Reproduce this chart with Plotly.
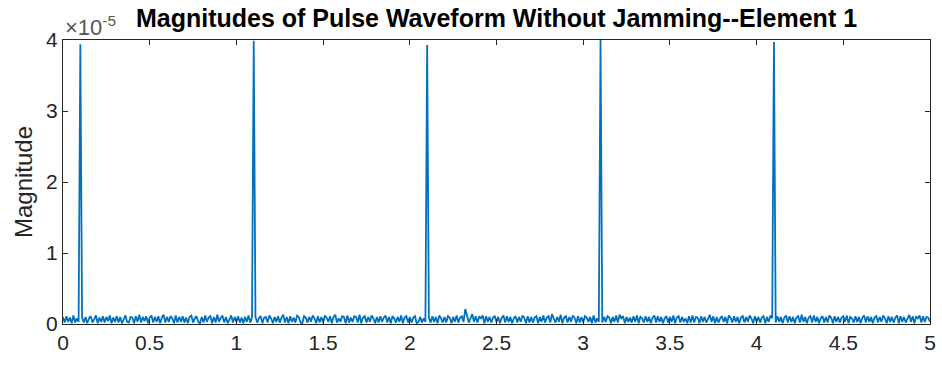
import numpy as np
import plotly.graph_objects as go

# sample grid (s) and magnitudes in units of 1e-5
t_start = 0.0
t_step = 0.01
n_samples = 501

mag_e5 = [
    .10, .02, .11, .03, .09, .01, .12, .02, .08, .03, 3.94, .09, .02, .10, .01, .08, .11, .02, .07, .12,
    .01, .09, .03, .11, .02, .10, .04, .12, .01, .09, .03, .11, .02, .10, .01, .08, .12, .03, .02, .10,
    .09, .01, .11, .03, .13, .02, .10, .04, .11, .01,
    .09, .12, .02, .10, .03, .11, .01, .09, .13, .02, .10, .03, .11, .08, .01, .12, .02, .10, .03, .11,
    .02, .09, .01, .10, .12, .02, .08, .11, .03, .01, .10, .02, .12, .03, .09, .11, .01, .10, .02, .13,
    .03, .09, .11, .02, .10, .01, .08, .12, .02, .10,
    .03, .11, .02, .09, .01, .10, .03, .12, .02, .09, 3.99, .10, .02, .08, .11, .01, .09, .10, .02, .12,
    .08, .01, .10, .03, .11, .02, .09, .13, .02, .10, .01, .11, .03, .09, .02, .12, .10, .02, .01, .11,
    .09, .02, .10, .03, .12, .08, .01, .11, .02, .10,
    .02, .12, .09, .03, .11, .01, .10, .13, .02, .08, .03, .11, .10, .01, .12, .02, .09, .03, .11, .10,
    .02, .13, .01, .09, .11, .02, .10, .03, .12, .08, .01, .10, .02, .11, .03, .09, .12, .02, .10, .01,
    .11, .08, .02, .10, .03, .12, .01, .09, .11, .02,
    .10, .02, .09, .11, .01, .03, .10, .02, .08, .03, 3.93, .09, .02, .11, .03, .10, .01, .12, .08, .02,
    .10, .02, .11, .09, .01, .10, .03, .12, .02, .09, .11, .03, .21, .10, .02, .08, .14, .03, .11, .02,
    .10, .08, .12, .01, .11, .03, .10, .02, .09, .11,
    .03, .10, .01, .09, .12, .02, .11, .03, .10, .01, .08, .11, .02, .10, .03, .12, .09, .01, .11, .02,
    .10, .02, .09, .11, .01, .10, .03, .12, .02, .09, .11, .02, .14, .08, .02, .10, .03, .13, .01, .09,
    .11, .02, .10, .03, .12, .09, .01, .11, .02, .10,
    .02, .11, .09, .03, .10, .01, .12, .02, .08, .03, 4.00, .02, .10, .03, .11, .09, .01, .10, .03, .12,
    .02, .13, .08, .11, .01, .10, .03, .09, .02, .11, .03, .12, .01, .10, .08, .02, .11, .03, .10, .01,
    .09, .12, .02, .11, .03, .10, .01, .08, .11, .02,
    .10, .03, .12, .01, .09, .11, .02, .10, .03, .08, .01, .11, .02, .12, .02, .10, .09, .01, .11, .03,
    .10, .02, .09, .13, .03, .11, .01, .10, .02, .08, .11, .03, .10, .01, .12, .09, .02, .11, .03, .10,
    .01, .09, .11, .02, .10, .03, .12, .08, .01, .11,
    .03, .10, .02, .09, .11, .01, .10, .03, .12, .08, 3.97, .02, .11, .03, .10, .01, .09, .12, .02, .11,
    .03, .10, .01, .09, .11, .02, .13, .03, .10, .01, .09, .11, .02, .12, .03, .10, .01, .08, .11, .02,
    .10, .02, .12, .09, .01, .11, .03, .10, .02, .09,
    .11, .03, .12, .01, .10, .08, .02, .11, .03, .10, .01, .09, .12, .02, .11, .03, .10, .01, .09, .11,
    .02, .10, .03, .12, .08, .01, .11, .03, .10, .02, .09, .12, .01, .11, .03, .10, .02, .09, .13, .03,
    .11, .01, .10, .08, .12, .02, .11, .03, .10, .09, .03,
]

x_ticks = [0, 0.5, 1, 1.5, 2, 2.5, 3, 3.5, 4, 4.5, 5]
x_ticktext = ['0', '0.5', '1', '1.5', '2', '2.5', '3', '3.5', '4', '4.5', '5']
y_ticks = [0, 1, 2, 3, 4]

t = t_start + t_step * np.arange(n_samples)

axis_col = '#262626'
font_name = 'Liberation Sans, Arial, sans-serif'

fig = go.Figure()
fig.add_trace(go.Scatter(x=t, y=mag_e5, mode='lines',
                         line=dict(color='#0072BD', width=1.8),
                         showlegend=False, hoverinfo='skip'))

axis_common = dict(showgrid=False, zeroline=False, showline=True, linecolor=axis_col,
                   linewidth=1, mirror='ticks', ticks='inside', ticklen=5, automargin=False,
                   tickcolor=axis_col, tickfont=dict(family=font_name, size=21, color=axis_col))

fig.update_xaxes(range=[0, 5], tickvals=x_ticks, ticktext=x_ticktext, **axis_common)
fig.update_yaxes(range=[0, 4], tickvals=y_ticks,
                 title=dict(text='Magnitude', font=dict(family=font_name, size=24, color=axis_col),
                            standoff=6),
                 **axis_common)

# MATLAB style exponent label
fig.add_annotation(text='\u00d710<sup>-5</sup>', xref='paper', yref='paper', x=0, y=1,
                   xanchor='left', yanchor='bottom', showarrow=False, yshift=-2,
                   font=dict(family=font_name, size=22, color='#555555'))

fig.update_layout(
    width=942, height=367,
    margin=dict(l=63, r=12, t=40, b=43),
    paper_bgcolor='white', plot_bgcolor='white',
    title=dict(text='<b>Magnitudes of Pulse Waveform Without Jamming--Element 1</b>',
               x=0.5, xref='paper', xanchor='center', y=1 - 18 / 367, yanchor='middle',
               font=dict(family=font_name, size=25, color='black')),
)

# drop the default page margin so the figure sits at the window's corner
fig.write_html("out.html", config={'displayModeBar': False},
               post_script="document.body.style.margin='0';")
